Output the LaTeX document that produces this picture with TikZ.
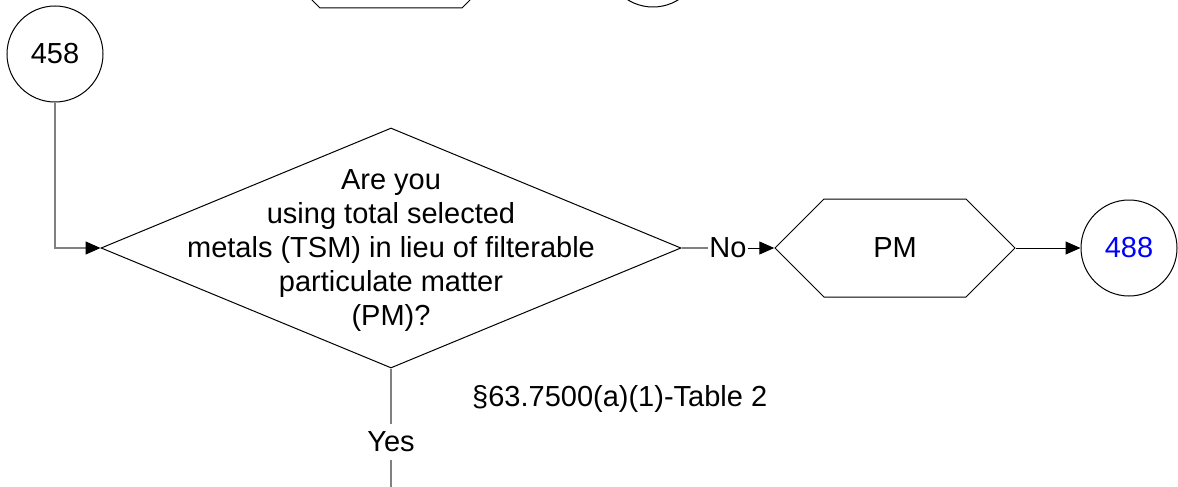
\documentclass[tikz,border=0pt]{standalone}
\usepackage{fontspec}
\setmainfont{Liberation Sans}
\usetikzlibrary{arrows.meta, positioning, shapes.geometric, shapes.symbols}
\definecolor{linkblue}{RGB}{0, 0, 255}
\definecolor{flowgray}{RGB}{128, 128, 128}

\begin{document}
\begin{tikzpicture}[x=1pt, y=-1pt,
  every node/.style={font=\fontsize{29}{34}\selectfont},
  offpage/.style={circle, draw, line width=1pt, minimum size=96pt, inner sep=0pt},
  decision/.style={diamond, draw, line width=1pt, minimum width=580pt, minimum height=240pt, inner sep=0pt},
  pollutant/.style={signal, signal to=east and west, signal pointer angle=90, draw, line width=1pt, minimum width=240pt, minimum height=98pt, inner sep=0pt},
  flow/.style={draw=flowgray, line width=1.4pt},
  tip/.style={-{Triangle[length=15pt, width=13pt, color=black]}}
]
  \useasboundingbox (0,0) rectangle (1178,487);
  \clip (0,0) rectangle (1178,487);
  % Shapes cut off by the page top
  \node[pollutant] (prev) at (391,-41) {};
  \node[offpage] (prevref) at (653,-41) {};
  % Entry
  \node[offpage] (p458) at (55,54) {458};
  % Decision
  \node[decision] (tsm) at (391,248) {};
  \node[align=center] (tsmq) at (391,251) {Are you\\using total selected\\metals (TSM) in lieu of filterable\\particulate matter\\(PM)?};
  % No branch
  \node[inner sep=1pt] (no) at (728,248) {No};
  \node[pollutant] (pm) at (895,248) {PM};
  \node[offpage, text=linkblue] (p488) at (1129,248) {488};
  % Yes branch
  \node[inner sep=8pt] (yes) at (391,442) {Yes};
  \coordinate (down) at (391,490);
  \node[anchor=west, inner sep=0pt] (cite) at (472,399) {§63.7500(a)(1)-Table 2};
  % Connectors
  \draw[flow, tip] (p458.south) |- (tsm.west);
  \draw[flow] (tsm.east) -- (no.west);
  \draw[tip, line width=1pt] (no.east) -- (pm.west);
  \draw[tip, line width=1pt] (pm.east) -- (p488.west);
  \draw[flow] (tsm.south) -- (yes.north);
  \draw[flow] (yes.south) -- (down);
\end{tikzpicture}
\end{document}
